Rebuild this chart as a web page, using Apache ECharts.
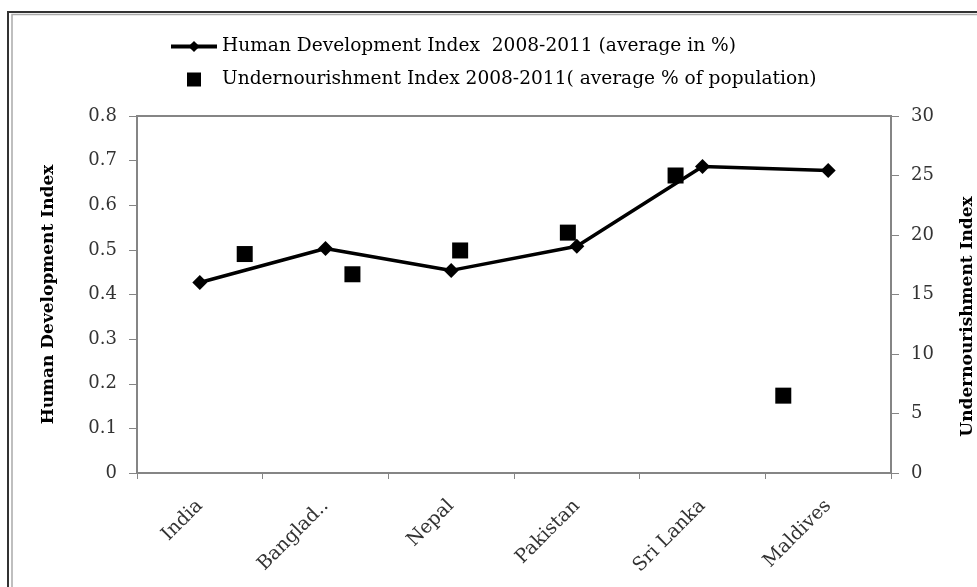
<!DOCTYPE html>
<html>
<head>
<meta charset="utf-8">
<script src="https://cdn.jsdelivr.net/npm/echarts@6/dist/echarts.min.js"></script>
<style>
  html, body { margin: 0; padding: 0; background: #fff; }
  #chart { width: 977px; height: 587px; }
</style>
</head>
<body>
<div id="chart"></div>
<script>
// South Asia: HDI (line, left axis) vs undernourishment (squares, right axis)
var categories = ['India', 'Banglad..', 'Nepal', 'Pakistan', 'Sri Lanka', 'Maldives'];
var hdiValues = [0.427, 0.503, 0.454, 0.508, 0.687, 0.678];
var undernourishValues = [18.4, 16.7, 18.7, 20.2, 25.0, 6.5];
var leftTicks = [0, 0.1, 0.2, 0.3, 0.4, 0.5, 0.6, 0.7, 0.8];
var rightTicks = [0, 5, 10, 15, 20, 25, 30];

var hdiName = 'Human Development Index  2008-2011 (average in %)';
var undernourishName = 'Undernourishment Index 2008-2011( average % of population)';

var SERIF = '"DejaVu Serif", "Liberation Serif", serif';
var axisGray = '#858585';

// the squares sit on a secondary x scale: slot 1..6 of 0..7
var squarePoints = undernourishValues.map(function (v, i) { return [i + 1, v]; });

var chart = echarts.init(document.getElementById('chart'), null, { renderer: 'canvas' });
chart.setOption({
  backgroundColor: '#fff',
  animation: false,
  grid: {
    left: 137, right: 86, top: 116, bottom: 114,
    outerBoundsMode: 'none',
    containLabel: false,
    show: true, borderColor: axisGray, borderWidth: 2, backgroundColor: 'transparent'
  },
  legend: {
    orient: 'vertical',
    left: 164, top: 32,
    itemWidth: 46, itemHeight: 14, itemGap: 14,
    textStyle: { fontFamily: SERIF, fontSize: 18.6, color: '#000' },
    data: [
      {
        name: hdiName,
        lineStyle: { color: '#000', width: 4 },
        itemStyle: { color: '#000' }
      },
      {
        name: undernourishName,
        icon: 'path://M0,0H10V10H0Z',
        itemStyle: { color: '#000', opacity: 1 }
      }
    ]
  },
  xAxis: [
    {
      type: 'category',
      data: categories,
      boundaryGap: true,
      axisLine: { lineStyle: { color: axisGray, width: 2 } },
      axisTick: { show: true, length: 6, lineStyle: { color: axisGray, width: 1 } },
      axisLabel: {
        rotate: 45, margin: 30, interval: 0,
        fontFamily: SERIF, fontSize: 19, color: '#333'
      },
      splitLine: { show: false }
    },
    {
      type: 'value',
      min: 0, max: 7,
      show: false,
      position: 'top'
    }
  ],
  yAxis: [
    {
      type: 'value',
      min: leftTicks[0], max: leftTicks[leftTicks.length - 1], interval: 0.1,
      position: 'left',
      name: 'Human Development Index',
      nameLocation: 'middle',
      nameGap: 80,
      nameTextStyle: { fontFamily: SERIF, fontSize: 17, fontWeight: 'bold', color: '#000' },
      axisLine: { show: true, lineStyle: { color: axisGray, width: 2 } },
      axisTick: { show: true, length: 8, lineStyle: { color: axisGray, width: 1 } },
      axisLabel: {
        margin: 20, fontFamily: SERIF, fontSize: 18, color: '#333',
        formatter: function (v) { return String(Math.round(v * 10) / 10); }
      },
      splitLine: { show: false }
    },
    {
      type: 'value',
      min: rightTicks[0], max: rightTicks[rightTicks.length - 1], interval: 5,
      position: 'right',
      name: 'Undernourishment Index',
      nameLocation: 'middle',
      nameGap: 68,
      nameRotate: 90,
      nameTextStyle: { fontFamily: SERIF, fontSize: 17, fontWeight: 'bold', color: '#000', padding: [0, 44, 0, 0] },
      axisLine: { show: true, lineStyle: { color: axisGray, width: 2 } },
      axisTick: { show: true, length: 8, lineStyle: { color: axisGray, width: 1 } },
      axisLabel: { margin: 20, fontFamily: SERIF, fontSize: 18, color: '#333' },
      splitLine: { show: false }
    }
  ],
  series: [
    {
      name: hdiName,
      type: 'line',
      xAxisIndex: 0, yAxisIndex: 0,
      data: hdiValues,
      symbol: 'diamond',
      symbolSize: 15,
      lineStyle: { color: '#000', width: 3.5 },
      itemStyle: { color: '#000' },
      z: 3
    },
    {
      name: undernourishName,
      type: 'scatter',
      xAxisIndex: 1, yAxisIndex: 1,
      data: squarePoints,
      symbol: 'rect',
      symbolSize: 16,
      itemStyle: { color: '#000', opacity: 1 },
      z: 4
    }
  ],
  graphic: [
    {
      type: 'polyline', silent: true,
      shape: { points: [[8, 587], [8, 12], [977, 12]] },
      style: { stroke: '#333', lineWidth: 2, fill: null }
    },
    {
      type: 'polyline', silent: true,
      shape: { points: [[12, 587], [12, 14.5], [977, 14.5]] },
      style: { stroke: '#aaa', lineWidth: 1.5, fill: null }
    }
  ]
});
</script>
</body>
</html>
